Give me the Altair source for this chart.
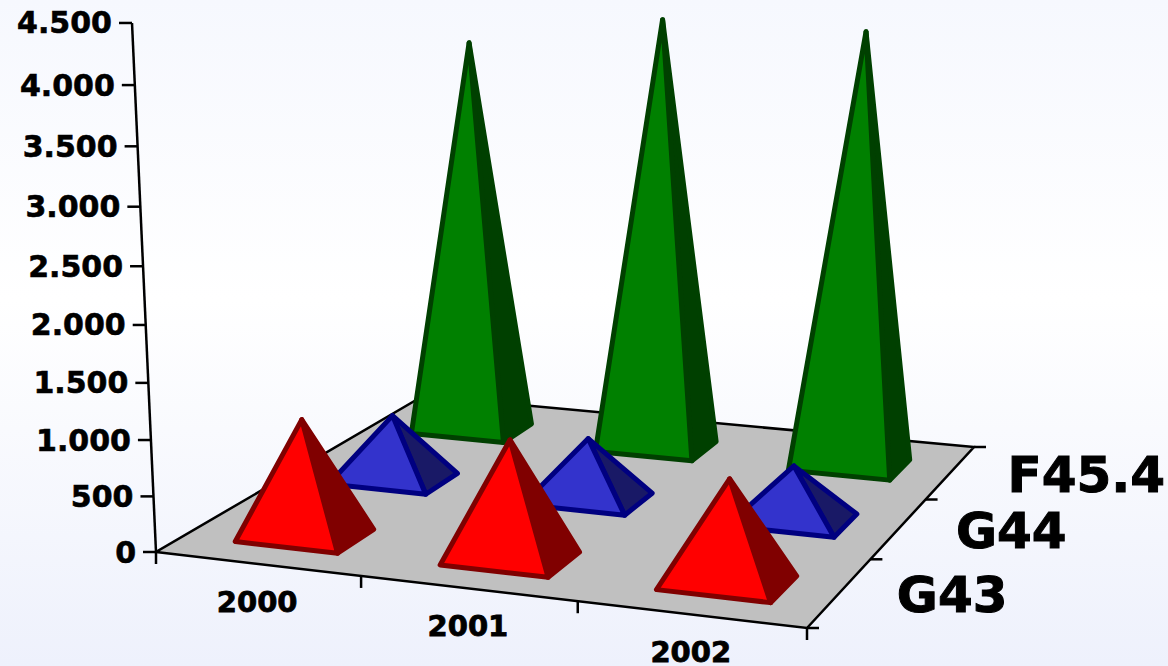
import altair as alt
import numpy as np

# Chart values
years = ["2000", "2001", "2002"]
series = ["G43", "G44", "F45.4"]
g43 = [1050, 1050, 900]
g44 = [610, 570, 500]
f454 = [3800, 4095, 4065]
value_ticks = [0, 500, 1000, 1500, 2000, 2500, 3000, 3500, 4000, 4500]
value_labels = ["0", "500", "1.000", "1.500", "2.000", "2.500", "3.000", "3.500", "4.000", "4.500"]

# Face, side and outline colours per series, front row first
palette = [
    ("#ff0000", "#800000", "#800000"),
    ("#3333cc", "#191966", "#000080"),
    ("#008000", "#004000", "#004000"),
]

# Camera: the floor corners on screen for (year, series) grid coordinates,
# plus the terms that carry the value axis upward in perspective
floor_screen = [(156, 552), (807, 628), (974, 447), (423, 396)]
floor_grid = [(0, 0), (3, 0), (3, 3), (0, 3)]
vert = (-0.0071, -0.11787, -1.34e-5)
half_u, half_v = 0.253, 0.195
center_u = (0.512, 0.508, 0.505)
center_v = 0.46


def solve_floor():
    rows, rhs = [], []
    for (u, v), (x, y) in zip(floor_grid, floor_screen):
        rows.append([u, v, 1, 0, 0, 0, -u * x, -v * x])
        rows.append([0, 0, 0, u, v, 1, -u * y, -v * y])
        rhs += [x, y]
    h = np.linalg.solve(np.array(rows, float), np.array(rhs, float))
    return np.append(h, 1).reshape(3, 3)


H = solve_floor()


def project(u, v, h=0.0):
    p = H @ np.array([u, v, 1.0])
    w = p[2] + vert[2] * h
    return [float((p[0] + vert[0] * h) / w), float((p[1] + vert[1] * h) / w)]


def polygon(points, fill, stroke, width):
    return {
        "type": "Feature",
        "properties": {"fill": fill, "stroke": stroke, "sw": width},
        "geometry": {"type": "Polygon", "coordinates": [points + [points[0]]]},
    }


def segment(a, b):
    return {
        "type": "Feature",
        "properties": {"stroke": "#000000"},
        "geometry": {"type": "LineString", "coordinates": [a, b]},
    }


def shifted(p, dx, dy):
    return [p[0] + dx, p[1] + dy]


# Floor
faces = [polygon([project(u, v) for u, v in floor_grid], "#c0c0c0", "#000000", 2.5)]

# Pyramids, back row to front row
for row in (2, 1, 0):
    values = (g43, g44, f454)[row]
    front, side, edge = palette[row]
    for col, value in enumerate(values):
        uc, vc = col + center_u[row], row + center_v
        apex = project(uc, vc, value)
        fl = project(uc - half_u, vc - half_v)
        fr = project(uc + half_u, vc - half_v)
        br = project(uc + half_u, vc + half_v)
        faces.append(polygon([fr, br, apex], side, edge, 5))
        faces.append(polygon([fl, fr, apex], front, edge, 5))

# Axis lines and tick marks
lines = [segment(project(0, 0), project(0, 0, value_ticks[-1]))]
for t in value_ticks:
    p = project(0, 0, t)
    lines.append(segment(p, shifted(p, -13, 0)))
for i in range(4):
    p = project(i, 0)
    lines.append(segment(p, shifted(p, 0, 12)))
    q = project(3, i)
    lines.append(segment(q, shifted(q, 12, 0)))

# Text labels
labels = []
for t, s in zip(value_ticks, value_labels):
    p = project(0, 0, t)
    labels.append({"lon": p[0] - 20, "lat": p[1] + 1.5, "text": s})
year_labels = []
for i, s in enumerate(years):
    p = project(i + 0.5, 0)
    year_labels.append({"lon": p[0], "lat": p[1] + 39, "text": s})
series_labels = []
for i, s in enumerate(series):
    p = project(3, i + 0.5)
    series_labels.append({"lon": p[0] + 57, "lat": p[1] + 4.5, "text": s})

screen = dict(type="identity", scale=1, translate=[0, 0])

background = alt.Chart(alt.Data(values=[{"a": 1}])).mark_rect(
    color=alt.Gradient(
        gradient="linear", x1=0, x2=0, y1=0, y2=1,
        stops=[
            alt.GradientStop(color="#f6f8fe", offset=0),
            alt.GradientStop(color="#ffffff", offset=0.45),
            alt.GradientStop(color="#eef1fc", offset=1),
        ],
    )
).encode(x=alt.value(0), x2=alt.value(1168), y=alt.value(0), y2=alt.value(666))

floor_layer = alt.Chart(alt.Data(values=faces[:1])).mark_geoshape().encode(
    fill=alt.Fill("properties.fill:N", scale=None),
    stroke=alt.Stroke("properties.stroke:N", scale=None),
    strokeWidth=alt.StrokeWidth("properties.sw:Q", scale=None),
).project(**screen)

line_layer = alt.Chart(alt.Data(values=lines)).mark_geoshape(
    filled=False, stroke="#000000", strokeWidth=2.5
).project(**screen)

pyramid_layer = alt.Chart(alt.Data(values=faces[1:])).mark_geoshape(strokeJoin="round").encode(
    fill=alt.Fill("properties.fill:N", scale=None),
    stroke=alt.Stroke("properties.stroke:N", scale=None),
    strokeWidth=alt.StrokeWidth("properties.sw:Q", scale=None),
).project(**screen)


def text_layer(rows, size, align, weight):
    return alt.Chart(alt.Data(values=rows)).mark_text(
        font="DejaVu Sans", fontWeight="bold", fontSize=size, align=align,
        baseline="middle", color="#000000", stroke="#000000", strokeWidth=weight,
    ).encode(
        longitude="lon:Q", latitude="lat:Q", text="text:N"
    ).project(**screen)


chart = alt.layer(
    background,
    floor_layer,
    line_layer,
    pyramid_layer,
    text_layer(labels, 30, "right", 0.6),
    text_layer(year_labels, 29, "center", 0.8),
    text_layer(series_labels, 50, "left", 1),
).properties(
    width=1168, height=666, padding=0,
    autosize=alt.AutoSizeParams(type="none"),
).configure_view(stroke=None)

chart.save("out.html", embed_options={"renderer": "svg", "actions": False})
